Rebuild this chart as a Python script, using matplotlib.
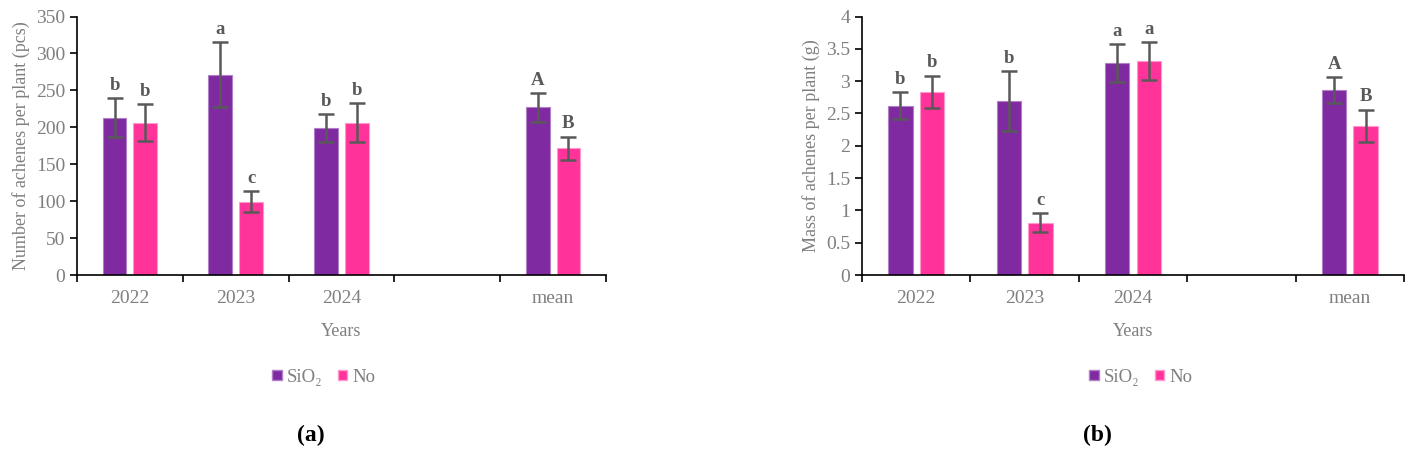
import matplotlib
matplotlib.use('Agg')
import matplotlib.pyplot as plt
import numpy as np
from matplotlib.patches import Patch

plt.rcParams['font.family'] = ['Liberation Serif', 'DejaVu Serif']

# categories (4th slot is an empty gap in the original)
categories = ['2022', '2023', '2024', '', 'mean']

# panel (a): number of achenes per plant
count_sio2 = [212.7, 271.0, 198.7, np.nan, 226.8]
count_sio2_err = [26.5, 44.0, 18.7, np.nan, 19.0]
count_no = [206.4, 99.4, 206.4, np.nan, 171.3]
count_no_err = [25.0, 14.0, 26.0, np.nan, 16.0]
count_sio2_lbl = ['b', 'a', 'b', '', 'A']
count_no_lbl = ['b', 'c', 'b', '', 'B']

# panel (b): mass of achenes per plant
mass_sio2 = [2.62, 2.69, 3.28, np.nan, 2.86]
mass_sio2_err = [0.21, 0.46, 0.29, np.nan, 0.20]
mass_no = [2.83, 0.81, 3.31, np.nan, 2.31]
mass_no_err = [0.25, 0.145, 0.29, np.nan, 0.25]
mass_sio2_lbl = ['b', 'b', 'a', '', 'A']
mass_no_lbl = ['b', 'c', 'a', '', 'B']

PURPLE = '#7F2AA1'
PINK = '#FF3399'
GRAY = '#7F7F7F'
DARK = '#595959'

W, H = 1413, 455
fig = plt.figure(figsize=(W / 100, H / 100), dpi=100)


def px_axes(x0, x1, y0, y1):
    return fig.add_axes([x0 / W, 1 - y1 / H, (x1 - x0) / W, (y1 - y0) / H])


def draw_panel(ax, s_vals, s_err, n_vals, n_err, s_lbl, n_lbl, ymax, ystep,
               ylabel, lbl_pad, fmt):
    x = np.arange(len(categories))
    bw = 0.225
    off = 0.145
    ax.bar(x - off, s_vals, bw, color=PURPLE, edgecolor='#B07FC8', linewidth=0.8, zorder=2)
    ax.bar(x + off, n_vals, bw, color=PINK, edgecolor='#FF99CC', linewidth=0.8, zorder=2)
    ax.errorbar(x - off, s_vals, yerr=s_err, fmt='none', ecolor=DARK, elinewidth=1.8,
                capsize=5.5, capthick=1.8, zorder=3)
    ax.errorbar(x + off, n_vals, yerr=n_err, fmt='none', ecolor=DARK, elinewidth=1.8,
                capsize=5.5, capthick=1.8, zorder=3)
    for i in range(len(categories)):
        if s_lbl[i]:
            ax.text(x[i] - off, s_vals[i] + s_err[i] + lbl_pad, s_lbl[i], ha='center',
                    va='bottom', fontsize=13.5, fontweight='bold', color=DARK)
        if n_lbl[i]:
            ax.text(x[i] + off, n_vals[i] + n_err[i] + lbl_pad, n_lbl[i], ha='center',
                    va='bottom', fontsize=13.5, fontweight='bold', color=DARK)

    ax.set_xlim(-0.5, len(categories) - 0.5)
    ax.set_ylim(0, ymax)
    ticks = np.arange(0, ymax + ystep / 2, ystep)
    ax.set_yticks(ticks)
    ax.set_yticklabels([fmt(v) for v in ticks])
    ax.set_xticks(x)
    ax.set_xticklabels(categories)
    ax.set_xticks(np.arange(-0.5, len(categories), 1.0), minor=True)
    ax.tick_params(axis='x', which='major', length=0, pad=11, labelsize=14, labelcolor=GRAY)
    ax.tick_params(axis='x', which='minor', length=5, width=1.2, direction='out', color='black')
    ax.tick_params(axis='y', length=5, width=1.2, direction='out', labelsize=14, labelcolor=GRAY)
    for s in ['top', 'right']:
        ax.spines[s].set_visible(False)
    ax.spines['left'].set_linewidth(1.2)
    ax.spines['bottom'].set_linewidth(1.2)
    ax.set_ylabel(ylabel, fontsize=13, color=GRAY, labelpad=4)
    ax.set_xlabel('Years', fontsize=13, color=GRAY, labelpad=11)


def fmt_int(v):
    return f'{int(round(v))}'


def fmt_g(v):
    return f'{v:g}'


ax1 = px_axes(77, 606, 16.5, 275)
draw_panel(ax1, count_sio2, count_sio2_err, count_no, count_no_err,
           count_sio2_lbl, count_no_lbl, 350, 50,
           'Number of achenes per plant (pcs)', 6, fmt_int)

ax2 = px_axes(862, 1404, 16.5, 275)
draw_panel(ax2, mass_sio2, mass_sio2_err, mass_no, mass_no_err,
           mass_sio2_lbl, mass_no_lbl, 4, 0.5,
           'Mass of achenes per plant (g)', 0.07, fmt_g)

handles = [Patch(facecolor=PURPLE, edgecolor='#B07FC8', label='SiO\u2082'),
           Patch(facecolor=PINK, edgecolor='#FF99CC', label='No')]
for cx in (324, 1141):
    leg = fig.legend(handles=handles, loc='center', bbox_to_anchor=(cx / W, 1 - 377 / H),
                     ncol=2, frameon=False, fontsize=13.5, handlelength=0.5, handleheight=0.5,
                     handletextpad=0.3, columnspacing=0.8)
    for t in leg.get_texts():
        t.set_color(GRAY)

fig.text(311 / W, 1 - 435 / H, '(a)', ha='center', va='center', fontsize=17, fontweight='bold')
fig.text(1097 / W, 1 - 435 / H, '(b)', ha='center', va='center', fontsize=17, fontweight='bold')

fig.savefig('out.png', dpi=100)
